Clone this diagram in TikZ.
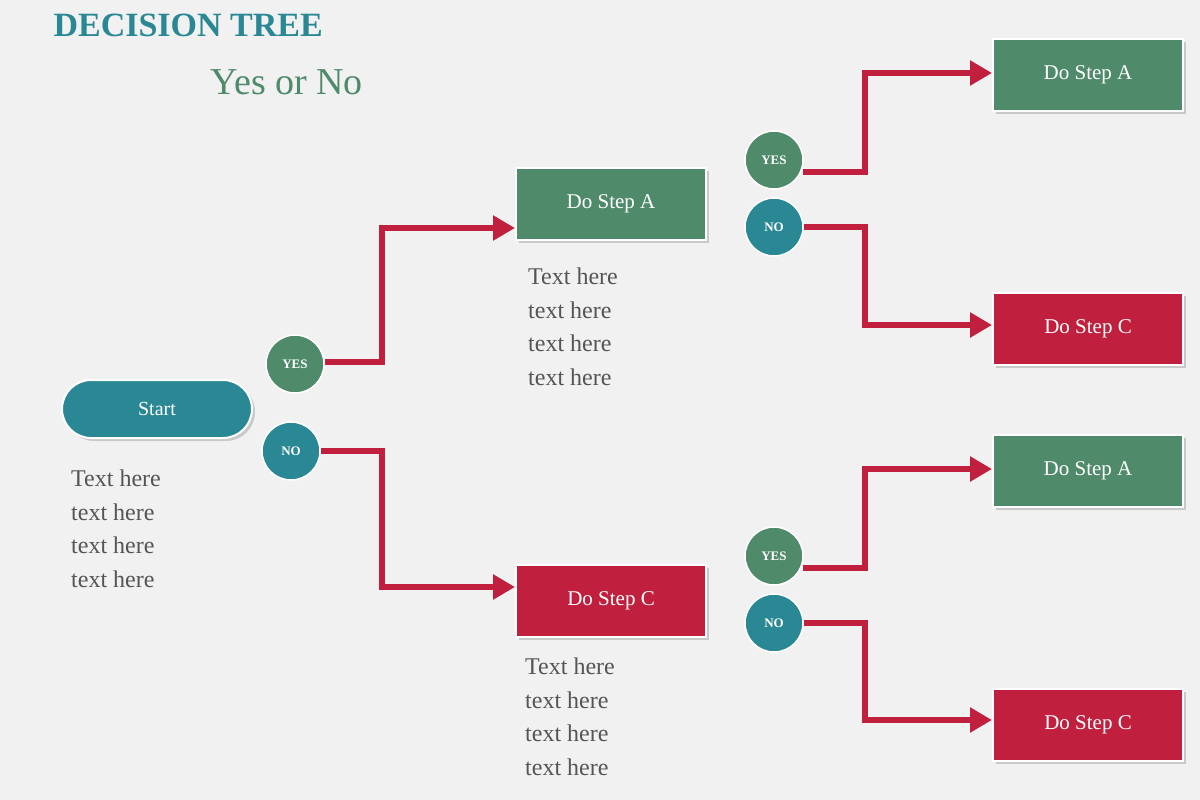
\documentclass[tikz,border=0pt]{standalone}
\usetikzlibrary{arrows.meta,shadows}
\usepackage{fontspec}
\setmainfont{Liberation Serif}
\definecolor{teal1}{HTML}{2A8894}
\definecolor{grn}{HTML}{4F8A6B}
\definecolor{rd}{HTML}{C01F3E}
\definecolor{bg}{HTML}{F1F1F1}
\definecolor{txt}{HTML}{555555}
\begin{document}
\begin{tikzpicture}[x=1pt,y=-1pt,
  box/.style={minimum width=190pt,minimum height=72pt,draw=white,line width=2pt,text=white,font=\fontsize{21}{24}\selectfont,drop shadow={shadow xshift=3pt,shadow yshift=-3pt,opacity=0.35}},
  gbox/.style={box,fill=grn},
  rbox/.style={box,fill=rd},
  circ/.style={circle,minimum size=58pt,inner sep=0pt,text=white,font=\bfseries\fontsize{13}{14}\selectfont,draw=white,line width=1.5pt},
  yes/.style={circ,fill=grn},
  no/.style={circ,fill=teal1},
  arr/.style={draw=rd,line width=6pt,-{Triangle[length=22pt,width=24pt]}},
  tb/.style={anchor=north west,align=left,text=txt,font=\fontsize{24}{33.5}\selectfont,inner sep=0pt}]
\fill[bg] (0,0) rectangle (1200,800);
\useasboundingbox (0,0) rectangle (1200,800);
\node[anchor=west,text=teal1,font=\bfseries\fontsize{34}{36}\selectfont] (title) at (50,25) {DECISION TREE};
\node[anchor=west,text=grn,font=\fontsize{38}{40}\selectfont] (sub) at (207,82) {Yes or No};
\node[rounded corners=29pt,minimum width=190pt,minimum height=58pt,fill=teal1,draw=white,line width=2pt,text=white,font=\fontsize{20}{22}\selectfont,drop shadow={shadow xshift=3pt,shadow yshift=-3pt,opacity=0.35}] (start) at (157,409) {Start};
\node[tb] (t0) at (71,470) {Text here\\text here\\text here\\text here};
\node[yes] (y0) at (295,364) {YES};
\node[no] (n0) at (291,451) {NO};
\node[gbox] (a1) at (611,204) {Do Step A};
\node[rbox] (c1) at (611,601) {Do Step C};
\node[tb] (t1) at (528,268) {Text here\\text here\\text here\\text here};
\node[tb] (t2) at (525,658) {Text here\\text here\\text here\\text here};
\node[yes] (y1) at (774,160) {YES};
\node[no] (n1) at (774,227) {NO};
\node[yes] (y2) at (774,556) {YES};
\node[no] (n2) at (774,623) {NO};
\node[gbox] (a2) at (1088,75) {Do Step A};
\node[rbox] (c2) at (1088,329) {Do Step C};
\node[gbox] (a3) at (1088,471) {Do Step A};
\node[rbox] (c3) at (1088,725) {Do Step C};
\draw[arr] (y0.east|-0,362) -- (382,362) -- (382,228) -- (a1.west|-0,228);
\draw[arr] (n0.east) -- (382,451) -- (382,587) -- (c1.west|-0,587);
\draw[arr] (803,172) -- (865,172) -- (865,73) -- (a2.west|-0,73);
\draw[arr] (n1.east) -- (865,227) -- (865,325) -- (c2.west|-0,325);
\draw[arr] (803,568) -- (865,568) -- (865,469) -- (a3.west|-0,469);
\draw[arr] (n2.east) -- (865,623) -- (865,720) -- (c3.west|-0,720);
\end{tikzpicture}
\end{document}
